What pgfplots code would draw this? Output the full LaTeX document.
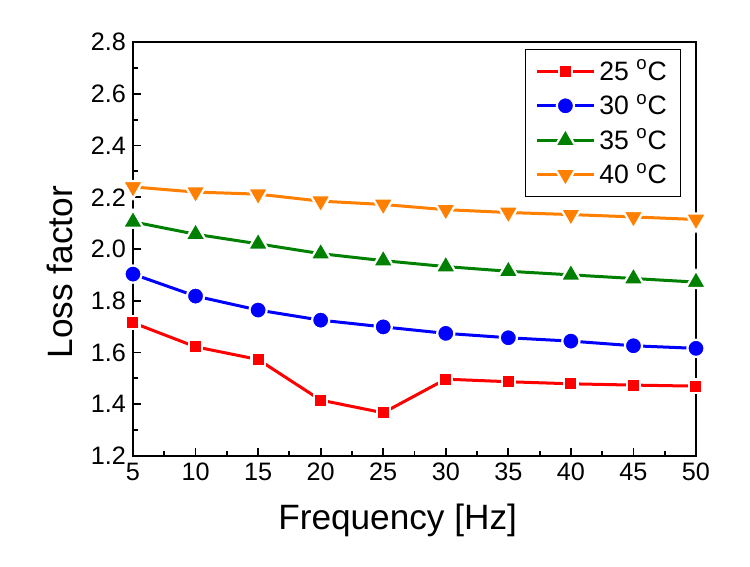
\documentclass[border=0pt]{standalone}
\usepackage{fontspec}
\setmainfont{Liberation Sans}
\usepackage{pgfplots}
\pgfplotsset{compat=1.18}
\definecolor{cred}{RGB}{255,0,0}
\definecolor{cblue}{RGB}{0,0,255}
\definecolor{cgreen}{RGB}{0,128,0}
\definecolor{corange}{RGB}{255,128,0}
\begin{document}
\begin{tikzpicture}
\path[use as bounding box] (-66.5pt,-55.5pt) rectangle (308.5pt,228pt);
\begin{axis}[
  at={(0,0)}, anchor=south west,
  scale only axis, width=281.5pt, height=207pt,
  xmin=5, xmax=50, ymin=1.2, ymax=2.8,
  xtick={5,10,...,50}, ytick={1.2,1.4,...,2.8},
  minor x tick num=1, minor y tick num=1,
  tick align=inside, xtick pos=left, ytick pos=left,
  major tick length=4pt, minor tick length=2.5pt,
  axis line style={line width=1pt},
  every tick/.style={black, line width=0.9pt},
  /pgf/number format/assume math mode=true,
  yticklabel style={/pgf/number format/.cd, fixed, fixed zerofill, precision=1},
  ticklabel style={font=\fontsize{12.6}{15}\selectfont},
  xlabel={Frequency [Hz]}, ylabel={Loss factor},
  label style={font=\fontsize{17.6}{21}\selectfont},
  xlabel style={at={(axis description cs:0.47,-0.155)}, anchor=center},
  ylabel style={at={(axis description cs:-0.13,0.444)}, anchor=center, rotate=0},
  legend style={at={(axis description cs:0.696,0.983)}, anchor=north west,
    draw=black, line width=0.6pt, font=\fontsize{13.3}{15}\selectfont,
    row sep=1.5pt, inner xsep=5pt, inner ysep=3pt},
  legend cell align=left,
  legend image code/.code={\draw[mark repeat=2,mark phase=2] plot coordinates {(0cm,0cm) (0.5cm,0cm) (1cm,0cm)};},
  every axis plot/.append style={line width=1.5pt},
]
\addplot[color=cred, mark=square*, mark size=3.3pt, mark options={fill=cred, draw=white, line width=1.1pt}] coordinates {
(5,1.715) (10,1.622) (15,1.573) (20,1.416) (25,1.367) (30,1.497) (35,1.487) (40,1.479) (45,1.474) (50,1.470)};
\addlegendentry{25 \textsuperscript{o}C}
\addplot[color=cblue, mark=*, mark size=4.3pt, mark options={fill=cblue, draw=white, line width=1.1pt}] coordinates {
(5,1.903) (10,1.818) (15,1.764) (20,1.725) (25,1.699) (30,1.674) (35,1.657) (40,1.644) (45,1.626) (50,1.616)};
\addlegendentry{30 \textsuperscript{o}C}
\addplot[color=cgreen, mark=triangle*, mark size=5.9pt, mark options={fill=cgreen, draw=white, line width=1.1pt}] coordinates {
(5,2.105) (10,2.057) (15,2.020) (20,1.982) (25,1.955) (30,1.932) (35,1.914) (40,1.900) (45,1.886) (50,1.872)};
\addlegendentry{35 \textsuperscript{o}C}
\addplot[color=corange, mark=triangle*, mark size=5.9pt, mark options={fill=corange, draw=white, line width=1.1pt, rotate=180}] coordinates {
(5,2.240) (10,2.220) (15,2.212) (20,2.185) (25,2.172) (30,2.152) (35,2.141) (40,2.133) (45,2.124) (50,2.114)};
\addlegendentry{40 \textsuperscript{o}C}
\end{axis}
\end{tikzpicture}
\end{document}
